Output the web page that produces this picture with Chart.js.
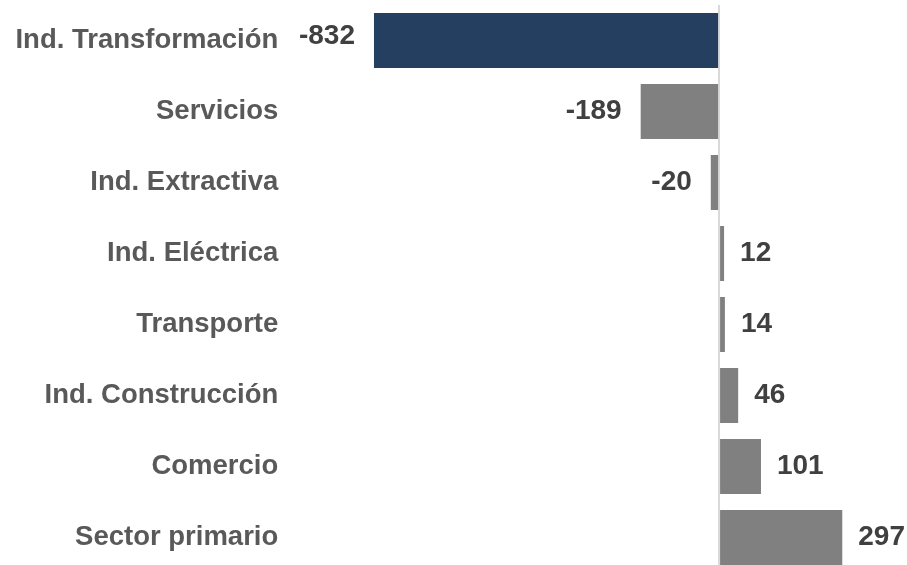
<!DOCTYPE html>
<html>
<head>
<meta charset="utf-8">
<script src="https://cdn.jsdelivr.net/npm/chart.js@4/dist/chart.umd.min.js"></script>
<style>
  html, body { margin: 0; padding: 0; background: #ffffff; overflow: hidden; }
  #wrap { width: 907px; height: 579px; }
</style>
</head>
<body>
<div id="wrap"><canvas id="c" width="907" height="579"></canvas></div>
<script>
const categories = ["Ind. Transformación", "Servicios", "Ind. Extractiva", "Ind. Eléctrica", "Transporte", "Ind. Construcción", "Comercio", "Sector primario"];
const values = [-832, -189, -20, 12, 14, 46, 101, 297];
const highlightIndex = 0;

const FONT = "'Liberation Sans', Arial, sans-serif";
const barColors = categories.map((_, i) => i === highlightIndex ? '#243F60' : '#808080');

const valueLabels = {
  id: 'valueLabels',
  afterDatasetsDraw(chart) {
    const ctx = chart.ctx;
    const meta = chart.getDatasetMeta(0);
    ctx.save();
    ctx.font = "bold 28px " + FONT;
    ctx.fillStyle = '#404040';
    ctx.textBaseline = 'middle';
    meta.data.forEach((el, i) => {
      const v = values[i];
      const dy = i === highlightIndex ? -4 : 0;
      if (v < 0) {
        ctx.textAlign = 'right';
        ctx.fillText(String(v), el.x - 19, el.y + dy);
      } else {
        ctx.textAlign = 'left';
        ctx.fillText(String(v), el.x + 16, el.y + dy);
      }
    });
    ctx.restore();
  }
};

new Chart(document.getElementById('c'), {
  type: 'bar',
  data: {
    labels: categories,
    datasets: [{
      data: values,
      backgroundColor: barColors,
      borderWidth: 0,
      barPercentage: 0.775,
      categoryPercentage: 1.0
    }]
  },
  options: {
    indexAxis: 'y',
    responsive: false,
    animation: false,
    layout: { padding: { top: 5, bottom: 6, left: 0, right: 22 } },
    plugins: { legend: { display: false }, tooltip: { enabled: false } },
    scales: {
      x: {
        min: -1000,
        max: 400,
        ticks: { display: false, stepSize: 200 },
        border: { display: false },
        grid: {
          drawTicks: false,
          lineWidth: 2,
          color: (c) => (c.tick && c.tick.value === 0) ? '#d9d9d9' : 'rgba(0,0,0,0)'
        },
        afterFit(scale) { scale.height = 0; scale.paddingLeft = 0; scale.paddingRight = 0; }
      },
      y: {
        border: { display: false },
        grid: { display: false, drawTicks: false },
        ticks: {
          color: '#595959',
          padding: 26,
          font: { family: FONT, size: 27.5, weight: 'bold' }
        },
        afterFit(scale) { scale.width = 304.3; scale.paddingTop = 0; scale.paddingBottom = 0; }
      }
    }
  },
  plugins: [valueLabels]
});
</script>
</body>
</html>
